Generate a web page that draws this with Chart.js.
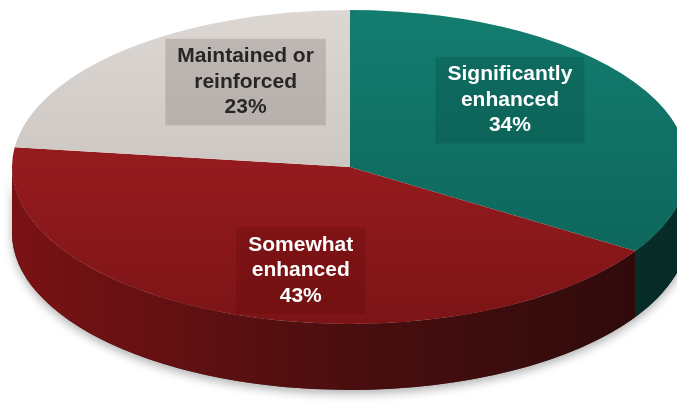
<!DOCTYPE html>
<html>
<head>
<meta charset="utf-8">
<script src="https://cdn.jsdelivr.net/npm/chart.js@4.4.0/dist/chart.umd.min.js"></script>
<style>
html, body { margin: 0; padding: 0; background: #fff; }
canvas { display: block; }
</style>
</head>
<body>
<canvas id="pieChart" width="677" height="403"></canvas>
<script>
const categories = [['Significantly', 'enhanced'], ['Somewhat', 'enhanced'], ['Maintained or', 'reinforced']];
const values = [34, 43, 23];

// top face colours (top -> bottom) and side wall colours (left -> right)
const topColors = [['#137d70', '#0f6d61', '#0c6156'], ['#a31d22', '#921a1d', '#7c1416'], ['#dcd7d3', '#ccc6c2', '#bdb6b2']];
const sideColors = [['#0d4a42', '#0a3832', '#072b26'], ['#7a1214', '#4a0e0f', '#2b0a0a'], ['#a9a29e', '#8f8985', '#7a7571']];
const boxColors = ['rgba(0, 45, 38, 0.18)', 'rgba(70, 0, 0, 0.18)', 'rgba(120, 105, 105, 0.28)'];
const textColors = ['#ffffff', '#ffffff', '#262626'];

// projected ellipse of the top face, and the wall height
const view = { cx: 350, cy: 167, rx: 338, ry: 157, depth: 66 };
// labels sit on the slice's middle angle at a fraction of the radius, then get nudged
const labelPlace = [{ f: 0.54, dy: -26 }, { f: 0.43, dy: 40 }, { f: 0.467, dy: -30 }];

function topGradient(context) {
    const chart = context.chart;
    const area = chart.chartArea || { top: 0, bottom: chart.height };
    const g = chart.ctx.createLinearGradient(0, area.top, 0, area.bottom);
    const cols = topColors[context.dataIndex];
    g.addColorStop(0, cols[0]);
    g.addColorStop(0.55, cols[1]);
    g.addColorStop(1, cols[2]);
    return g;
}

function frontSpans(arc) {
    // parts of a slice that face the viewer (lower half of the ellipse)
    const spans = [];
    [0, 2 * Math.PI].forEach(base => {
        const a0 = Math.max(arc.startAngle, base);
        const a1 = Math.min(arc.endAngle, base + Math.PI);
        if (a1 > a0) spans.push([a0, a1]);
    });
    return spans;
}

function wallPath(ctx, a0, a1) {
    ctx.beginPath();
    ctx.ellipse(view.cx, view.cy, view.rx, view.ry, 0, a0, a1, false);
    ctx.ellipse(view.cx, view.cy + view.depth, view.rx, view.ry, 0, a1, a0, true);
    ctx.closePath();
}

const pie3d = {
    id: 'pie3d',
    beforeDatasetsDraw(chart) {
        const ctx = chart.ctx;
        const arcs = chart.getDatasetMeta(0).data;

        // soft shadow under the whole wall
        ctx.save();
        ctx.shadowColor = 'rgba(0, 0, 0, 0.3)';
        ctx.shadowBlur = 10;
        ctx.shadowOffsetY = 4;
        ctx.fillStyle = '#333';
        wallPath(ctx, 0, Math.PI);
        ctx.fill();
        ctx.restore();

        arcs.forEach((arc, i) => {
            frontSpans(arc).forEach(([a0, a1]) => {
                const g = ctx.createLinearGradient(view.cx - view.rx, 0, view.cx + view.rx, 0);
                sideColors[i].forEach((c, k, a) => g.addColorStop(k / (a.length - 1), c));
                wallPath(ctx, a0, a1);
                ctx.fillStyle = g;
                ctx.fill();
            });
        });

        // squash the library's round pie onto the top face ellipse
        const a = arcs[0];
        ctx.save();
        ctx.translate(view.cx, view.cy);
        ctx.scale(view.rx / a.outerRadius, view.ry / a.outerRadius);
        ctx.translate(-a.x, -a.y);
    },
    afterDatasetsDraw(chart) {
        const ctx = chart.ctx;
        ctx.restore();

        const arcs = chart.getDatasetMeta(0).data;
        ctx.save();
        ctx.font = 'bold 21px "Liberation Sans", Arial, sans-serif';
        ctx.textAlign = 'center';
        ctx.textBaseline = 'middle';
        arcs.forEach((arc, i) => {
            const mid = (arc.startAngle + arc.endAngle) / 2;
            const p = labelPlace[i];
            const x = view.cx + view.rx * p.f * Math.cos(mid);
            const y = view.cy + view.ry * p.f * Math.sin(mid) + p.dy;
            const lines = [...categories[i], values[i] + '%'];
            const lh = 25.5;
            const w = Math.max(...lines.map(l => ctx.measureText(l).width)) + 24;
            const h = lines.length * lh + 10;
            ctx.fillStyle = boxColors[i];
            ctx.fillRect(x - w / 2, y - h / 2, w, h);
            ctx.fillStyle = textColors[i];
            lines.forEach((l, k) => ctx.fillText(l, x, y + (k - 1) * lh));
        });
        ctx.restore();
    }
};

const ctxPie = document.getElementById('pieChart').getContext('2d');
const pieChart = new Chart(ctxPie, {
    type: 'pie',
    data: {
        labels: categories,
        datasets: [{
            data: values,
            backgroundColor: topGradient,
            borderWidth: 0,
            clip: false
        }]
    },
    options: {
        responsive: false,
        animation: false,
        events: [],
        layout: { padding: 0 },
        plugins: {
            legend: { display: false },
            tooltip: { enabled: false }
        }
    },
    plugins: [pie3d]
});
</script>
</body>
</html>
